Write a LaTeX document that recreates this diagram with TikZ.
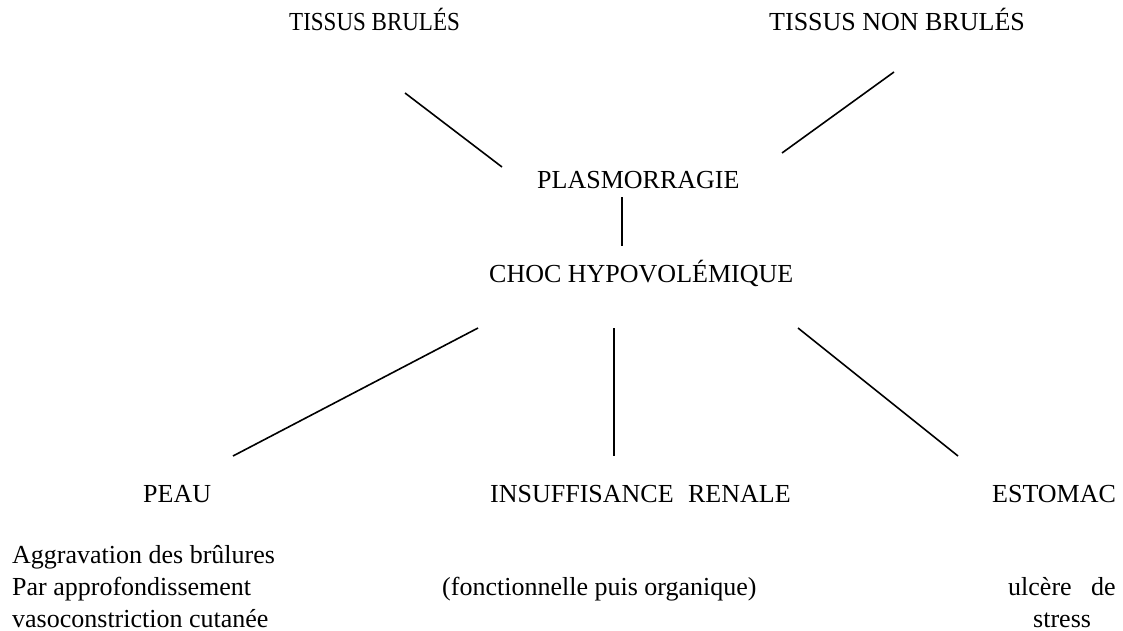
\documentclass[tikz,border=0pt]{standalone}
\usepackage{fontspec}
\setmainfont{Liberation Serif}
\begin{document}
\begin{tikzpicture}[x=1pt,y=-1pt,
  lbl/.style={anchor=base west,inner sep=0pt,font=\fontsize{26}{32}\selectfont},
  link/.style={line width=1.6pt,line cap=butt}]
\useasboundingbox (0,0) rectangle (1123,631);
% labels
\node[lbl] (tb) at (289,31) {\scalebox{0.885}[1]{TISSUS BRULÉS}};
\node[lbl] (tnb) at (769,31) {TISSUS NON BRULÉS};
\node[lbl] (pl) at (537,188) {PLASMORRAGIE};
\node[lbl] (ch) at (489,282) {CHOC HYPOVOLÉMIQUE};
\node[lbl] (pe) at (143,502) {PEAU};
\node[lbl] (ir) at (490,502) {INSUFFISANCE\hspace{8pt} RENALE};
\node[lbl] (es) at (992,502) {ESTOMAC};
\node[lbl] (pe1) at (12,563) {Aggravation des brûlures};
\node[lbl] (pe2) at (12,595) {Par approfondissement};
\node[lbl] (pe3) at (12,627) {vasoconstriction cutanée};
\node[lbl] (ir1) at (442,595) {(fonctionnelle puis organique)};
\node[lbl] (es1) at (1008,595) {ulcère};
\node[lbl] (es2) at (1091,595) {de};
\node[lbl] (es3) at (1033,627) {stress};
% connector ends
\coordinate (a1) at (405,93);   \coordinate (a2) at (502,167);
\coordinate (b1) at (894,72);   \coordinate (b2) at (782,153);
\coordinate (c1) at (622,197);  \coordinate (c2) at (622,246);
\coordinate (d1) at (478,328);  \coordinate (d2) at (233,456);
\coordinate (e1) at (614,328);  \coordinate (e2) at (614,456);
\coordinate (f1) at (798,328);  \coordinate (f2) at (958,456);
% connectors
\draw[link] (a1) -- (a2);
\draw[link] (b1) -- (b2);
\draw[link] (c1) -- (c2);
\draw[link] (d1) -- (d2);
\draw[link] (e1) -- (e2);
\draw[link] (f1) -- (f2);
\end{tikzpicture}
\end{document}
